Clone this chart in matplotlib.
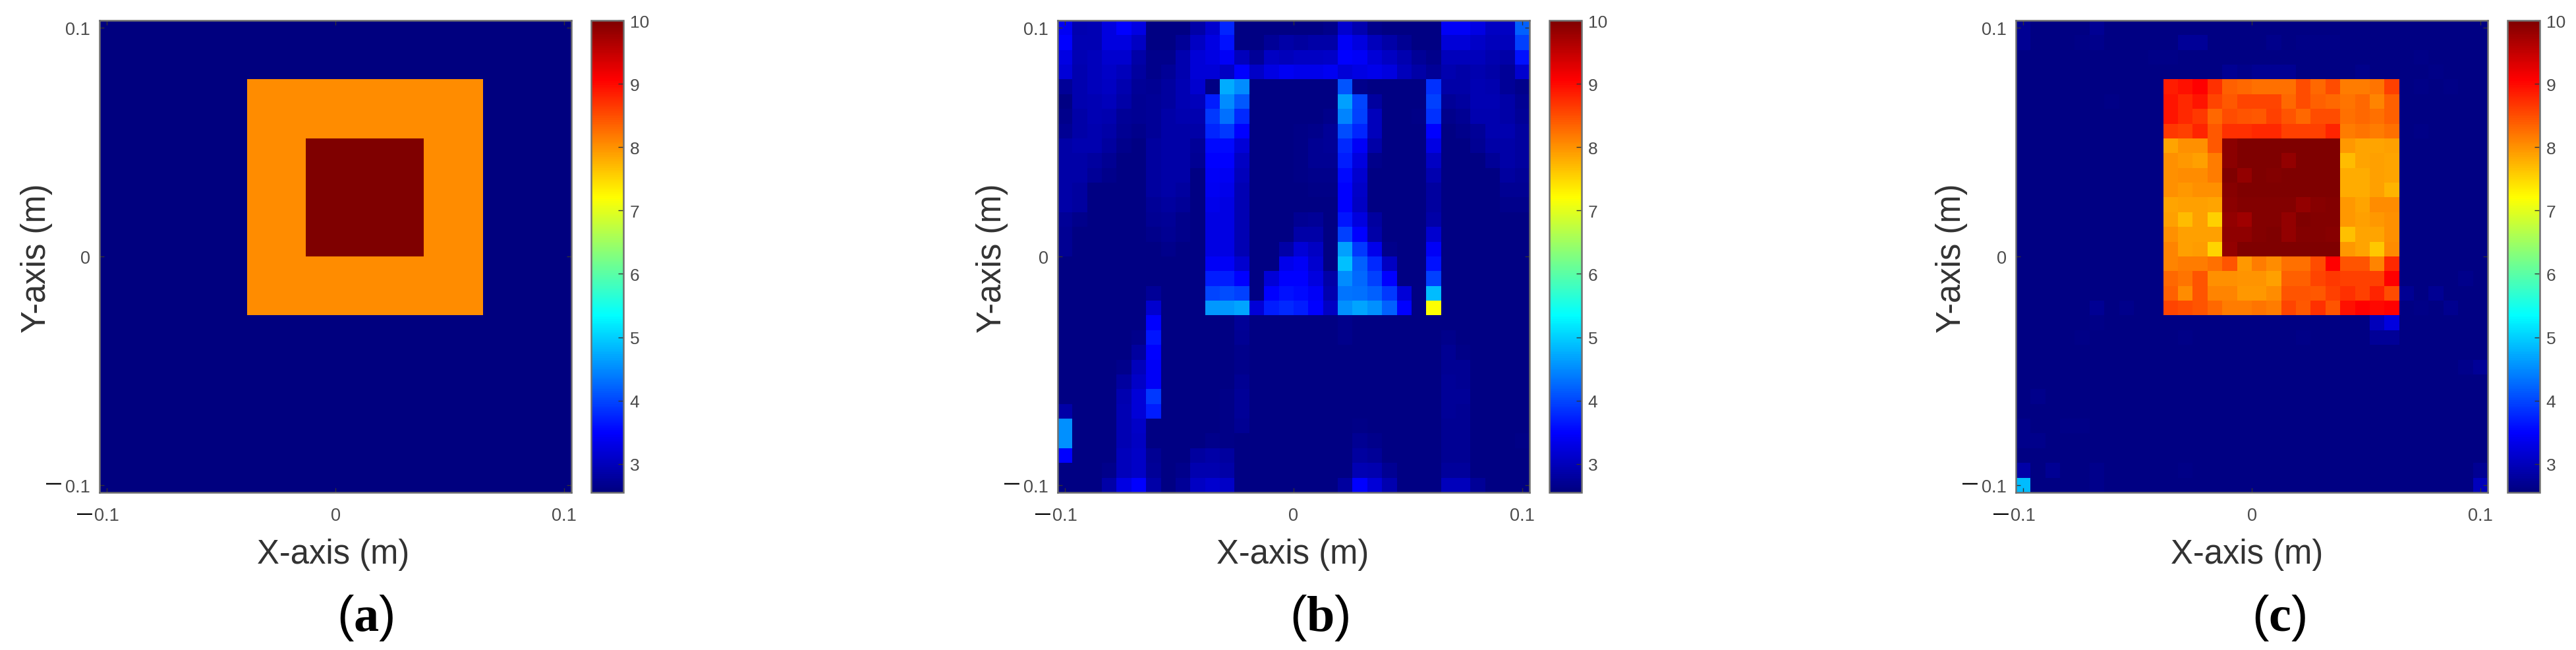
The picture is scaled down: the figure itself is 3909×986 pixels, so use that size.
import matplotlib
matplotlib.use("Agg")
import matplotlib.pyplot as plt
from matplotlib.colors import LinearSegmentedColormap

plt.rcParams['font.family'] = ['Liberation Sans', 'DejaVu Sans']
plt.rcParams['mathtext.fontset'] = 'custom'
plt.rcParams['mathtext.rm'] = 'Liberation Serif'
plt.rcParams['mathtext.bf'] = 'Liberation Serif:bold'

W, H = 3909, 987

# ---- data (rows top to bottom) ----
n = 2.58
v_min = 2.55
v_max = 10

row_bg = [v_min] * 32
row_outer = [v_min] * 10 + [8.03] * 16 + [v_min] * 6
row_inner = [v_min] * 10 + [8.03] * 4 + [10] * 8 + [8.03] * 4 + [v_min] * 6
a_values = [row_bg] * 4 + [row_outer] * 4 + [row_inner] * 8 + [row_outer] * 4 + [row_bg] * 12

b_values = [
    [3.4, 2.9, 2.95, 3.25, 3.5, 3.3, 2.6, 2.6, 2.6, 2.85, 3.15, 3.75, 2.6, 2.6, 2.6, 2.6, 2.6, 2.6, 2.65, 3.15, 2.9, 2.65, 2.6, 2.6, 2.6, 2.6, 3.45, 3.45, 3.3, 3.05, 3.05, 4.2],
    [3.5, 2.95, 2.95, 3.25, 3.25, 3.05, 2.6, 2.6, 2.75, 3.05, 3.3, 3.6, 2.6, 2.6, 2.75, 2.85, 2.8, 2.85, 2.85, 3.45, 3.25, 3.0, 2.85, 2.7, 2.6, 2.6, 3.2, 3.2, 3.1, 3.0, 3.0, 3.95],
    [3.3, 2.95, 3.0, 3.15, 3.15, 2.85, 2.65, 2.65, 2.9, 3.2, 3.3, 3.45, 3.0, 2.75, 3.05, 3.0, 3.05, 3.05, 3.1, 3.5, 3.45, 3.2, 3.05, 2.9, 2.75, 2.65, 3.0, 3.0, 3.0, 2.9, 2.85, 3.6],
    [3.2, 2.9, 3.0, 3.1, 3.0, 2.8, 2.65, 2.75, 2.9, 3.2, 3.2, 3.05, 3.5, 3.1, 3.3, 3.4, 3.35, 3.35, 3.4, 3.2, 3.3, 3.35, 3.25, 3.0, 2.85, 2.75, 2.9, 2.85, 2.9, 2.85, 2.75, 3.15],
    [2.75, 2.9, 3.0, 3.05, 2.9, 2.75, 2.7, 2.8, 2.95, 3.15, n, 4.75, 4.5, n, n, n, n, n, n, 4.1, 2.65, n, n, n, n, 3.85, 2.85, 2.85, 2.95, 2.9, 2.75, 2.65],
    [2.6, 2.9, 2.95, 3.0, 2.85, 2.7, 2.75, 2.8, 2.95, 3.0, 3.7, 4.5, 4.15, n, n, n, n, n, n, 4.65, 4.0, 2.8, n, n, n, 3.95, 2.75, 2.8, 2.95, 2.95, 2.85, 2.7],
    [2.65, 2.85, 2.95, 2.9, 2.75, 2.7, 2.75, 2.85, 2.9, 2.9, 3.9, 4.3, 3.8, n, n, n, n, n, 2.65, 4.45, 3.95, 3.0, n, n, 2.62, 3.85, 2.65, 2.7, 2.9, 2.9, 2.85, 2.75],
    [2.7, 2.85, 2.9, 2.85, 2.7, 2.65, 2.75, 2.85, 2.85, 2.85, 3.75, 3.9, 3.5, n, n, n, 2.62, 2.65, 2.75, 4.05, 3.75, 3.0, n, n, n, 3.5, 2.6, 2.65, 2.75, 2.9, 2.9, 2.8],
    [2.85, 2.9, 2.9, 2.8, 2.65, 2.6, 2.8, 2.85, 2.85, 2.75, 3.55, 3.55, 3.2, n, n, n, 2.62, 2.7, 2.75, 3.8, 3.45, 2.85, n, n, n, 3.3, 2.6, n, 2.7, 2.85, 2.85, 2.8],
    [2.85, 2.85, 2.8, 2.7, 2.6, 2.6, 2.8, 2.85, 2.85, 2.7, 3.5, 3.5, 3.05, n, n, n, 2.62, 2.7, 2.7, 3.7, 3.25, 2.65, n, n, n, 3.05, 2.6, 2.6, 2.6, 2.75, 2.85, 2.8],
    [2.85, 2.85, 2.75, 2.65, 2.6, 2.6, 2.8, 2.85, 2.85, 2.6, 3.45, 3.4, 3.0, n, n, n, 2.62, 2.65, 2.65, 3.55, 3.15, 2.6, n, n, n, 2.9, 2.6, 2.6, 2.6, 2.6, 2.8, 2.75],
    [2.85, 2.8, 2.6, 2.6, 2.6, 2.6, 2.8, 2.85, 2.8, 2.6, 3.4, 3.35, 2.95, n, n, n, 2.6, 2.62, 2.62, 3.5, 3.1, n, n, n, n, 2.8, n, n, n, 2.6, 2.7, 2.7],
    [2.85, 2.8, 2.6, 2.6, 2.6, 2.6, 2.75, 2.8, 2.75, 2.6, 3.35, 3.3, 2.95, n, n, n, n, n, n, 3.5, 3.05, n, n, n, n, 2.8, n, n, n, n, 2.65, 2.65],
    [2.75, 2.65, 2.6, 2.6, 2.6, 2.6, 2.7, 2.75, 2.65, 2.6, 3.3, 3.3, 2.95, n, n, n, 2.7, 2.75, 2.6, 3.65, 3.25, 2.8, n, n, n, 2.85, n, n, n, n, n, n],
    [2.7, 2.6, 2.6, 2.6, 2.6, 2.6, 2.65, 2.7, 2.65, 2.6, 3.3, 3.3, 2.95, n, n, n, 2.85, 2.85, 2.6, 3.95, 3.5, 2.85, n, n, n, 3.15, n, n, n, n, n, n],
    [2.7, 2.6, 2.6, 2.6, 2.6, 2.6, 2.6, 2.65, 2.6, 2.6, 3.3, 3.3, 2.95, n, n, 2.85, 3.2, 3.05, 2.6, 4.65, 3.9, 3.35, 2.65, n, n, 3.45, n, n, n, n, n, n],
    [n, n, n, n, n, n, n, n, n, n, 3.45, 3.45, 3.15, n, n, 3.35, 3.45, 3.15, 2.6, 4.9, 4.2, 3.8, 3.05, n, n, 3.6, n, n, n, n, n, n],
    [n, n, n, n, n, n, n, n, n, n, 3.7, 3.7, 3.5, 2.6, 3.2, 3.5, 3.5, 3.25, 2.85, 4.5, 4.25, 3.95, 3.5, n, n, 3.95, n, n, n, n, n, n],
    [n, n, n, n, n, n, 2.75, n, n, n, 4.0, 4.05, 3.95, 2.6, 3.5, 3.6, 3.55, 3.45, 2.9, 4.35, 4.3, 4.2, 3.9, 3.2, n, 4.85, n, n, n, n, n, n],
    [n, n, n, n, n, n, 3.15, n, n, n, 4.6, 4.6, 4.7, 3.2, 3.7, 3.8, 3.7, 3.5, 3.05, 4.55, 4.7, 4.55, 4.2, 3.5, n, 7.2, n, n, n, n, n, n],
    [n, n, n, n, n, n, 3.5, n, n, n, n, n, 2.75, n, n, n, n, n, n, 2.65, n, n, n, n, n, n, n, n, n, n, n, n],
    [n, n, n, n, n, 2.65, 3.65, n, n, n, n, n, 2.7, n, n, n, n, n, n, 2.65, n, n, n, n, n, n, 2.65, n, n, n, n, n],
    [n, n, n, n, n, 2.8, 3.5, n, n, n, n, n, 2.65, n, n, n, n, n, n, n, n, n, n, n, n, n, 2.7, 2.62, n, n, n, n],
    [n, n, n, n, 2.65, 3.0, 3.45, n, n, n, n, n, 2.65, n, n, n, n, n, n, n, n, n, n, n, n, n, 2.72, 2.7, n, n, n, n],
    [n, n, n, n, 2.8, 3.1, 3.45, n, n, n, n, n, 2.7, n, n, n, n, n, n, n, n, n, n, n, n, n, 2.75, 2.72, n, n, n, n],
    [n, n, n, n, 2.9, 3.2, 3.9, n, n, n, n, 2.62, 2.75, n, n, n, n, n, n, n, n, n, n, n, n, n, 2.75, 2.75, n, n, n, n],
    [2.85, n, n, n, 2.95, 3.2, 3.7, n, n, n, n, 2.62, 2.75, n, n, n, n, n, n, n, n, n, n, n, n, n, 2.75, 2.72, n, n, n, n],
    [4.55, n, n, n, 2.95, 3.1, n, n, n, n, n, 2.62, 2.7, n, n, n, n, n, n, n, 2.62, n, n, n, n, n, 2.72, 2.7, n, n, n, n],
    [4.55, n, n, n, 2.95, 3.05, n, n, n, n, 2.65, 2.62, n, n, n, n, n, n, n, n, 2.7, 2.65, n, n, n, n, 2.72, 2.7, n, n, n, 2.62],
    [3.5, n, n, n, 3.0, 3.1, 2.7, n, n, 2.8, 2.85, 2.8, n, n, n, n, n, n, n, n, 2.8, 2.75, n, n, n, n, 2.72, 2.72, n, n, n, n],
    [n, n, n, 2.65, 3.0, 3.1, 2.75, n, 2.65, 2.9, 2.9, 2.85, n, n, n, n, n, n, n, n, 2.95, 2.9, 2.7, n, n, n, 2.78, 2.78, n, n, n, n],
    [n, n, n, 2.85, 3.3, 3.5, 2.85, 2.6, 2.75, 3.05, 3.15, 3.1, n, n, n, n, n, n, n, 2.8, 3.5, 3.2, 2.9, n, n, n, 3.0, 3.0, 2.75, n, n, n],
]

c_values = [
    [2.7, n, n, n, n, 2.7, n, n, n, n, n, n, n, n, n, n, n, n, n, n, n, n, n, n, n, n, n, n, n, n, n, n],
    [2.7, n, n, n, 2.62, 2.65, n, n, n, n, n, 2.75, 2.75, n, n, n, n, 2.65, n, 2.62, 2.62, 2.62, n, n, n, n, n, n, n, n, n, n],
    [n, n, n, n, n, n, n, n, n, 2.62, 2.62, n, n, n, n, n, n, n, n, n, n, n, n, n, n, n, n, 2.62, n, n, n, n],
    [n, n, n, n, n, n, n, n, n, n, n, n, n, n, 2.7, 2.65, 2.72, 2.72, 2.72, n, n, n, n, 2.65, n, n, n, n, 2.63, n, n, n],
    [n] * 10 + [8.85, 8.95, 9.05, 8.7, 8.35, 8.3, 8.25, 8.25, 8.25, 8.5, 8.3, 8.5, 8.15, 8.15, 8.2, 8.6] + [n, 2.62, n, 2.62, n, n],
    [n, n, n, n, n, n, 2.63, n, n, n] + [8.9, 8.75, 8.9, 8.55, 8.4, 8.55, 8.55, 8.55, 8.3, 8.5, 8.35, 8.3, 8.2, 8.3, 8.1, 8.35] + [n] * 6,
    [n] * 10 + [8.9, 8.75, 8.65, 8.3, 8.5, 8.45, 8.4, 8.6, 8.45, 8.3, 8.5, 8.5, 8.25, 8.3, 8.25, 8.35] + [n] * 6,
    [n] * 10 + [8.65, 8.6, 8.8, 8.4, 8.7, 8.7, 8.75, 8.75, 8.6, 8.6, 8.6, 8.8, 8.15, 8.2, 8.15, 8.25] + [n, 2.63, n, n, n, n],
    [n] * 10 + [7.85, 8.0, 8.0, 8.4, 9.9, 10, 10, 10, 10, 10, 10, 10, 7.95, 7.85, 7.85, 7.9] + [n] * 6,
    [n] * 10 + [8.0, 7.95, 7.9, 8.15, 9.9, 10, 10, 10, 9.85, 10, 10, 10, 7.7, 7.85, 7.9, 7.85] + [n] * 6,
    [n] * 10 + [8.0, 8.05, 8.05, 8.15, 10, 9.85, 10, 9.95, 10, 10, 10, 10, 7.8, 7.8, 7.9, 7.85] + [n] * 6,
    [n] * 10 + [8.0, 7.95, 8.0, 8.0, 9.92, 10, 10, 10, 10, 10, 10, 10, 7.8, 7.8, 7.9, 7.75] + [n] * 6,
    [n] * 10 + [7.85, 7.9, 7.9, 7.85, 9.9, 9.95, 9.97, 9.97, 9.97, 9.85, 9.92, 9.95, 7.95, 7.85, 8.05, 8.05] + [n] * 6,
    [n] * 10 + [7.9, 7.7, 7.9, 7.55, 9.85, 9.75, 9.95, 9.95, 9.85, 10, 9.95, 9.97, 7.95, 7.9, 7.95, 8.0] + [n] * 6,
    [n] * 10 + [8.0, 7.9, 7.9, 7.9, 9.88, 9.88, 9.97, 10, 9.85, 9.97, 9.97, 9.92, 7.65, 7.85, 7.85, 8.0] + [n] * 6,
    [n] * 10 + [8.1, 7.9, 7.92, 7.5, 9.85, 10, 10, 10, 10, 10, 10, 10, 7.95, 7.85, 7.6, 8.05] + [n] * 6,
    [n] * 10 + [8.1, 8.15, 8.15, 8.25, 8.45, 7.95, 8.15, 8.05, 8.25, 8.25, 8.5, 9.05, 8.45, 8.45, 8.1, 8.75] + [n] * 6,
    [n] * 10 + [8.3, 8.2, 8.45, 8.0, 8.0, 7.97, 7.97, 7.9, 8.35, 8.35, 8.55, 8.65, 8.6, 8.6, 8.6, 9.05] + [n, n, n, n, 2.65, n],
    [n] * 10 + [8.35, 8.05, 8.45, 8.1, 8.1, 7.95, 7.95, 8.05, 8.45, 8.45, 8.4, 8.6, 8.7, 8.6, 8.8, 8.5] + [2.7, n, 2.7, n, n, n],
    [n, n, n, n, n, 2.7, n, 2.65, n, n] + [8.55, 8.5, 8.45, 8.3, 8.15, 8.15, 8.2, 8.15, 8.55, 8.4, 8.7, 8.45, 8.95, 9.05, 9.0, 9.05] + [n, 2.62, n, 2.68, n, n],
    [n, n, n, n, n, 2.62, n, n, n, n, n, n, n, n, n, n, n, n, n, n, n, n, n, n, 3.0, 3.25, n, n, n, n, n, n],
    [n, n, n, n, 2.62, n, n, n, n, n, n, 2.62, n, n, n, n, n, n, n, 2.62, n, n, n, n, 2.75, 2.75, n, n, n, n, n, n],
    [n] * 32,
    [n, n, n, n, n, n, n, n, n, n, n, n, n, n, n, n, n, n, n, n, n, n, n, n, n, n, n, n, n, n, 2.65, 2.75],
    [n] * 32,
    [n, 2.65, n, n, n, n, n, n, n, n, n, n, n, n, n, n, n, n, n, n, n, n, n, n, n, n, n, n, n, n, n, n],
    [n] * 32,
    [2.65, n, n, 2.62, 2.62, n, n, n, n, n, n, n, n, n, n, n, n, n, n, n, n, n, n, n, n, n, n, n, n, n, n, n],
    [2.65, 2.65, n, n, n, n, n, n, n, n, n, n, n, n, n, n, n, n, n, n, n, n, n, n, n, n, n, n, n, n, n, n],
    [n] * 32,
    [2.85, n, 2.7, n, n, 2.65, n, n, n, n, n, 2.62, n, n, n, n, n, n, n, n, n, n, n, n, n, n, n, n, n, n, n, 2.7],
    [4.87, n, n, n, n, 2.65, n, n, n, n, n, n, n, n, n, n, n, n, n, n, n, n, n, n, n, n, n, n, n, n, n, 3.0],
]

panel_values = [a_values, b_values, c_values]
panel_names = ['a', 'b', 'c']
xy_ticks = [-0.1, 0, 0.1]
xy_tick_labels = ['0.1', '0', '0.1']
cbar_ticks = [3, 4, 5, 6, 7, 8, 9, 10]

# ---- layout, all in pixels of the reference ----
ax_left = [151, 1605, 3059]
ax_width = 716
ax_top = 32
ax_bottom = 748
cbar_gap = 30
cbar_width = 49
xlabel_x = [506, 1962, 3410]
ylabel_x = [56, 1505, 2961]
caption_x = [554, 2002, 3458]

# colour scale as in MATLAB jet
jet = LinearSegmentedColormap.from_list('matlab_jet', [
    (0, (0, 0, 0.5)), (0.125, (0, 0, 1)), (0.375, (0, 1, 1)),
    (0.625, (1, 1, 0)), (0.875, (1, 0, 0)), (1, (0.5, 0, 0))], N=256)

frame_col = '#6f6f6f'
tick_col = '#333333'
text_col = '#4a4a4a'
half = 0.1 + 0.1 / 31   # pixel centres run from -0.1 to 0.1


def px_rect(left, right, top, bottom):
    return [left / W, 1 - bottom / H, (right - left) / W, (bottom - top) / H]


fig = plt.figure(figsize=(W / 100, H / 100), dpi=100, facecolor='white')

for i in range(3):
    left = ax_left[i]
    right = left + ax_width
    ax = fig.add_axes(px_rect(left, right, ax_top, ax_bottom))
    im = ax.imshow(panel_values[i], cmap=jet, vmin=v_min, vmax=v_max, aspect='auto',
                   interpolation='nearest', extent=(-half, half, -half, half))
    ax.set_xticks(xy_ticks, xy_tick_labels)
    ax.set_yticks(xy_ticks, xy_tick_labels)
    ax.tick_params(direction='in', length=5, width=1, color=tick_col, top=True, right=True,
                   labelsize=19.5, labelcolor=text_col)
    ax.tick_params(axis='x', pad=16)
    ax.tick_params(axis='y', pad=10)
    for s in ax.spines.values():
        s.set_color(frame_col)
        s.set_linewidth(1.8)

    # the minus signs sit apart from the numbers
    fig.text((left - 70) / W, 1 - (ax_bottom - 14) / H, '\u2014', fontsize=16.5, fontweight='bold',
             color='black', ha='center', va='center')
    fig.text((left - 23) / W, 1 - (ax_bottom + 32) / H, '\u2014', fontsize=16.5, fontweight='bold',
             color='black', ha='center', va='center')

    fig.text(xlabel_x[i] / W, 1 - 842 / H, 'X-axis (m)', fontsize=36.5, color='#333333',
             ha='center', va='center')
    fig.text(ylabel_x[i] / W, 1 - 392 / H, 'Y-axis (m)', fontsize=36.5, color='#333333',
             ha='center', va='center', rotation=90)
    fig.text(caption_x[i] / W, 1 - 938 / H, '($\\mathbf{%s}$)' % panel_names[i], fontsize=55,
             color='black', ha='center', va='center')

    cax = fig.add_axes(px_rect(right + cbar_gap, right + cbar_gap + cbar_width, ax_top, ax_bottom))
    cb = fig.colorbar(im, cax=cax, ticks=cbar_ticks)
    cb.ax.tick_params(direction='in', length=5.5, width=1, color=tick_col, labelsize=19,
                      labelcolor=text_col, pad=7)
    cb.outline.set_edgecolor(frame_col)
    cb.outline.set_linewidth(1.8)

fig.savefig('out.png', dpi=100, facecolor='white')
